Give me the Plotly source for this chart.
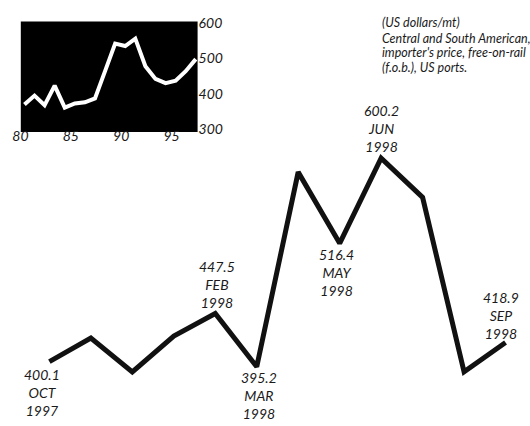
import plotly.graph_objects as go

# Main series: Oct 1997 - Sep 1998 (US dollars/mt)
months = ["OCT", "NOV", "DEC", "JAN", "FEB", "MAR", "APR", "MAY", "JUN", "JUL", "AUG", "SEP"]
years = ["1997", "1997", "1997", "1998", "1998", "1998", "1998", "1998", "1998", "1998", "1998", "1998"]
prices = [400.1, 423.4, 390.1, 425.3, 447.5, 395.2, 586.4, 516.4, 600.2, 561.6, 390.1, 418.9]
labeled_months = ["OCT", "FEB", "MAR", "MAY", "JUN", "SEP"]

# Inset: annual series 1980-1997
inset_years = [80, 81, 82, 83, 84, 85, 86, 87, 88, 89, 90, 91, 92, 93, 94, 95, 96, 97]
inset_prices = [370, 395, 368, 423, 361, 373, 376, 387, 464, 542, 535, 556, 478, 442, 430, 437, 464, 498]
inset_xticks = [80, 85, 90, 95]
inset_xticklabels = ["80", "85", "90", "95"]
inset_yticks = [300, 400, 500, 600]
inset_yticklabels = ["300", "400", "500", "600"]

note_lines = ["(US dollars/mt)", "Central and South American,",
              "importer's price, free-on-rail", "(f.o.b.), US ports."]

FONT = "Lato"
TXT = "#1a1a1a"
W, H = 530, 426

x_idx = list(range(len(months)))

fig = go.Figure()
fig.add_trace(go.Scatter(x=x_idx, y=prices, mode="lines",
                         line=dict(color="#111111", width=5, shape="linear"),
                         hoverinfo="skip", showlegend=False, xaxis="x", yaxis="y"))
fig.add_trace(go.Scatter(x=inset_years, y=inset_prices, mode="lines",
                         line=dict(color="white", width=4),
                         hoverinfo="skip", showlegend=False, xaxis="x2", yaxis="y2"))

# label placement (offsets only; values come from data)
placement = {
    "OCT": dict(pos="below", xshift=-7, yshift=-3),
    "FEB": dict(pos="above", xshift=2, yshift=1),
    "MAR": dict(pos="below", xshift=2, yshift=-1),
    "MAY": dict(pos="below", xshift=-3, yshift=-2),
    "JUN": dict(pos="above", xshift=0, yshift=2),
    "SEP": dict(pos="above", xshift=-5, yshift=0),
}
for i, m in enumerate(months):
    if m not in labeled_months:
        continue
    p = placement[m]
    txt = f"{prices[i]:.1f}<br>{m}<br>{years[i]}"
    fig.add_annotation(x=x_idx[i], y=prices[i], xref="x", yref="y", text=txt,
                       showarrow=False, yanchor="bottom" if p["pos"] == "above" else "top",
                       yshift=p["yshift"], xshift=p["xshift"], borderpad=0,
                       font=dict(family=FONT, size=14, color=TXT, style="italic"), align="center")

note_y = [15, 31, 46, 61]
for line, yy in zip(note_lines, note_y):
    fig.add_annotation(x=378 / W, y=1 - yy / H, xref="paper", yref="paper", text=line,
                       showarrow=False, xanchor="left", yanchor="middle", align="left",
                       font=dict(family=FONT, size=12.5, color=TXT, style="italic"))

# black inset background
fig.add_shape(type="rect", xref="x2 domain", yref="y2 domain", x0=0, x1=1, y0=0, y1=1,
              fillcolor="black", line=dict(width=0), layer="below")

fig.update_layout(
    width=W, height=H,
    margin=dict(l=0, r=0, t=0, b=0),
    paper_bgcolor="white", plot_bgcolor="rgba(0,0,0,0)",
    font=dict(family=FONT, color=TXT),
    xaxis=dict(domain=[0, 1], range=[-0.998, 11.59], visible=False, fixedrange=True),
    yaxis=dict(domain=[0, 1], range=[341.8, 747.7], visible=False, fixedrange=True),
    xaxis2=dict(domain=[13 / W, 192.5 / W], range=[79.64, 97.18], anchor="y2",
                showgrid=False, zeroline=False, showline=False, ticks="",
                tickvals=inset_xticks, ticktext=inset_xticklabels,
                tickfont=dict(family=FONT, size=14, color=TXT, style="italic"),
                ticklabelstandoff=-6, ticklabelshift=-4),
    yaxis2=dict(domain=[1 - 128 / H, 1 - 14 / H], range=[292, 604], anchor="x2", side="right",
                showgrid=False, zeroline=False, showline=False, ticks="",
                tickvals=inset_yticks, ticktext=inset_yticklabels,
                tickfont=dict(family=FONT, size=14, color=TXT, style="italic"),
                ticklabelstandoff=0),
)

fig.write_html("out.html")
